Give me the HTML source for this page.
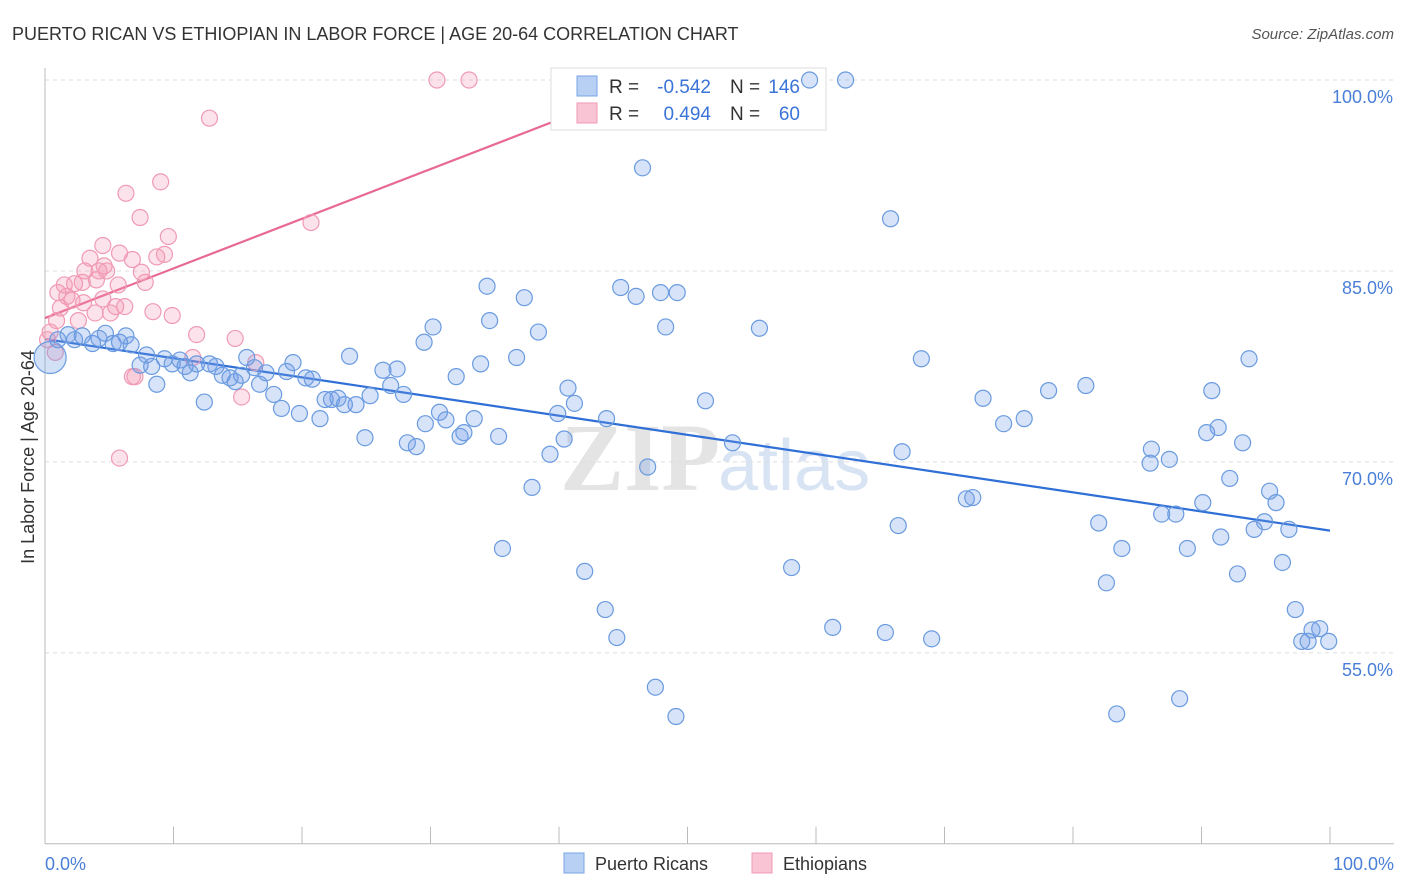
<!DOCTYPE html>
<html><head><meta charset="utf-8">
<style>
body{margin:0;background:#fff;font-family:"Liberation Sans",sans-serif;}
svg{display:block}
</style></head>
<body>
<svg id="chart" width="1406" height="892" viewBox="0 0 1406 892" xmlns="http://www.w3.org/2000/svg">
<text x="12" y="40" font-size="18" fill="#333">PUERTO RICAN VS ETHIOPIAN IN LABOR FORCE | AGE 20-64 CORRELATION CHART</text>
<text x="1394" y="39" font-size="15" fill="#555" font-style="italic" text-anchor="end">Source: ZipAtlas.com</text>
<text x="720" y="490" font-size="96" fill="#e4e4e4" text-anchor="end" font-family="Liberation Serif,serif" font-weight="bold">ZIP</text>
<text x="718" y="490" font-size="72" fill="#d8e4f4">atlas</text>
<g id="grid"></g>
<g id="axes"></g>
<g id="trends"></g>
<g>
<rect x="551" y="68" width="275" height="62" fill="#fff" stroke="#ddd"/>
<rect x="577" y="76" width="20" height="20" fill="#b8d0f4" stroke="#7aa4e4"/>
<rect x="577" y="103" width="20" height="20" fill="#f9c4d4" stroke="#f09ab5"/>
<text x="609" y="93" font-size="19" fill="#333">R =</text>
<text x="711" y="93" font-size="19" fill="#3a74d8" text-anchor="end">-0.542</text>
<text x="730" y="93" font-size="19" fill="#333">N =</text>
<text x="800" y="93" font-size="19" fill="#3a74d8" text-anchor="end">146</text>
<text x="609" y="120" font-size="19" fill="#333">R =</text>
<text x="711" y="120" font-size="19" fill="#3a74d8" text-anchor="end">0.494</text>
<text x="730" y="120" font-size="19" fill="#333">N =</text>
<text x="800" y="120" font-size="19" fill="#3a74d8" text-anchor="end">60</text>
</g>
<g id="points"></g>
<text transform="translate(34,457) rotate(-90)" font-size="18" fill="#333" text-anchor="middle">In Labor Force | Age 20-64</text>
<text x="45" y="870" font-size="18" fill="#4a7fd8">0.0%</text>
<text x="1394" y="870" font-size="18" fill="#4a7fd8" text-anchor="end">100.0%</text>
<g>
<rect x="564" y="853" width="20" height="20" fill="#b8d0f4" stroke="#7aa4e4"/>
<text x="595" y="870" font-size="18" fill="#333">Puerto Ricans</text>
<rect x="752" y="853" width="20" height="20" fill="#f9c4d4" stroke="#f09ab5"/>
<text x="783" y="870" font-size="18" fill="#333">Ethiopians</text>
</g>
</svg>
<script>
const yTicks=[100,85,70,55];
const yTickLabels=["100.0%","85.0%","70.0%","55.0%"];
const xTicks=[0,10,20,30,40,50,60,70,80,90,100];
const blueX=[62.3,59.5,46.5,65.8,34.4,37.3,44.8,46.0,47.9,49.2,34.6,30.2,38.4,48.3,55.6,29.5,36.7,23.7,33.9,26.3,27.4,32.0,26.9,27.9,40.7,41.2,39.9,43.7,33.4,30.7,31.2,29.6,32.3,32.6,35.3,24.9,28.2,28.9,40.4,39.3,46.9,37.9,51.4,53.5,68.2,66.7,73.0,74.6,76.2,78.1,81.0,93.7,90.8,90.4,91.3,93.2,86.1,86.0,87.5,92.2,95.3,95.8,90.1,71.7,72.2,86.9,88.0,94.9,94.1,96.8,91.5,82.0,66.4,83.8,88.9,96.3,92.8,82.6,58.1,42.0,35.6,43.6,44.5,61.3,65.4,69.0,97.3,97.8,98.3,99.2,99.9,98.6,47.5,49.1,83.4,88.3,1.0,1.8,2.3,2.9,3.7,4.2,4.7,5.3,5.8,6.3,6.7,7.4,7.9,8.3,8.7,9.3,9.9,10.5,10.9,11.3,11.8,12.4,12.8,13.3,13.8,14.4,14.8,15.3,15.7,16.3,16.7,17.2,17.8,18.4,18.8,19.3,19.8,20.3,20.8,21.4,21.8,22.3,22.8,23.3,24.2,25.3];
const blueY=[100,100,93.1,89.1,83.8,82.9,83.7,83.0,83.3,83.3,81.1,80.6,80.2,80.6,80.5,79.4,78.2,78.3,77.7,77.2,77.3,76.7,76.0,75.3,75.8,74.6,73.8,73.4,73.4,73.9,73.3,73.0,72.0,72.3,72.0,71.9,71.5,71.2,71.8,70.6,69.6,68.0,74.8,71.5,78.1,70.8,75.0,73.0,73.4,75.6,76.0,78.1,75.6,72.3,72.7,71.5,71.0,69.9,70.2,68.7,67.7,66.8,66.8,67.1,67.2,65.9,65.9,65.3,64.7,64.7,64.1,65.2,65.0,63.2,63.2,62.1,61.2,60.5,61.7,61.4,63.2,58.4,56.2,57.0,56.6,56.1,58.4,55.9,55.9,56.9,55.9,56.8,52.3,50.0,50.2,51.4,79.6,80.0,79.6,79.9,79.3,79.7,80.1,79.3,79.4,79.9,79.2,77.6,78.4,77.5,76.1,78.1,77.7,78.0,77.5,77.0,77.7,74.7,77.7,77.5,76.8,76.6,76.3,76.8,78.2,77.4,76.1,77.0,75.3,74.2,77.1,77.8,73.8,76.6,76.5,73.4,74.9,74.9,75.0,74.5,74.5,75.2];
const pinkX=[30.5,33.0,12.8,9.0,6.3,7.4,20.7,9.6,4.5,5.8,6.8,8.7,9.3,3.5,4.6,4.2,3.1,4.8,7.5,1.5,2.3,2.9,4.0,5.7,7.8,1.0,1.7,2.1,4.5,3.0,5.5,6.2,1.2,0.9,2.6,3.9,5.1,8.4,9.9,0.4,0.2,0.8,11.8,14.8,11.5,16.4,7.0,6.8,15.3,5.8];
const pinkY=[100,100,97.0,92.0,91.1,89.2,88.8,87.7,87.0,86.4,85.9,86.1,86.3,86.0,85.4,85.0,85.0,85.0,84.9,83.9,84.0,84.1,84.3,83.9,84.1,83.3,83.0,82.7,82.8,82.5,82.2,82.2,82.1,81.1,81.1,81.7,81.7,81.8,81.5,80.2,79.6,78.6,80.0,79.7,78.2,77.8,76.7,76.7,75.1,70.3];
const blueTrend=[[0,79.65],[100,64.6]];
const pinkTrend=[[0,81.3],[40,96.9]];
const X=v=>45+v*12.85, Y=v=>80+(100-v)*12.73;
const NS="http://www.w3.org/2000/svg";
function mk(tag,attrs,parent){const e=document.createElementNS(NS,tag);for(const k in attrs)e.setAttribute(k,attrs[k]);document.getElementById(parent).appendChild(e);return e;}
yTicks.forEach((t,i)=>{
 const l=mk('line',{x1:45,x2:1394,y1:Y(t),y2:Y(t),stroke:'#ddd','stroke-dasharray':'4,4'},'grid');
 
 
 const tx=mk('text',{x:1393,y:Y(t)+23,'font-size':18,fill:'#4a7fd8','text-anchor':'end'},'grid');
 tx.textContent=yTickLabels[i];
 
 
});
const ya=mk('line',{x1:45,x2:45,y1:68,y2:Y(40),stroke:'#bbb'},'axes');


const xa=mk('line',{x1:45,x2:1394,y1:Y(40),y2:Y(40),stroke:'#bbb'},'axes');


xTicks.forEach(t=>{
 const l=mk('line',{x1:X(t),x2:X(t),y1:Y(40)-17,y2:Y(40),stroke:'#bbb'},'axes');
 
 
});
const bt=mk('line',{x1:X(blueTrend[0][0]),y1:Y(blueTrend[0][1]),x2:X(blueTrend[1][0]),y2:Y(blueTrend[1][1]),stroke:'#2f6fd6','stroke-width':2.2},'trends');


const pt=mk('line',{x1:X(pinkTrend[0][0]),y1:Y(pinkTrend[0][1]),x2:X(pinkTrend[1][0]),y2:Y(pinkTrend[1][1]),stroke:'#e86a92','stroke-width':2.2},'trends');


pinkX.forEach((x,i)=>{
 const c=mk('circle',{cx:X(x),cy:Y(pinkY[i]),r:8,fill:'rgba(244,150,180,0.28)',stroke:'#f09ab5','stroke-width':1.2},'points');
 
 
});
blueX.forEach((x,i)=>{
 const c=mk('circle',{cx:X(x),cy:Y(blueY[i]),r:8,fill:'rgba(110,155,230,0.28)',stroke:'#6a9be0','stroke-width':1.2},'points');
 
 
});
const big=mk('circle',{cx:X(0.4),cy:Y(78.2),r:16,fill:'rgba(110,155,230,0.3)',stroke:'#6a9be0','stroke-width':1.2},'points');


</script>
</body></html>
